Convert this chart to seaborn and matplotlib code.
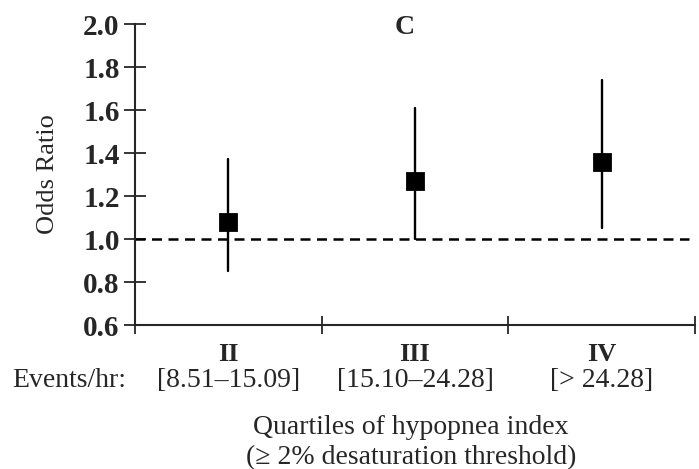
import pandas as pd
import seaborn as sns
import matplotlib.pyplot as plt
import matplotlib.transforms as mtransforms

quartiles = ['II', 'III', 'IV']
ranges = ['[8.51\u201315.09]', '[15.10\u201324.28]', '[> 24.28]']
odds = [1.08, 1.27, 1.36]
ci_low = [0.85, 1.00, 1.05]
ci_high = [1.37, 1.61, 1.74]
yticks = [0.6, 0.8, 1.0, 1.2, 1.4, 1.6, 1.8, 2.0]

# long table: median of (low, mid, high) = odds ratio, 100% interval = CI
df = pd.DataFrame({
    'Quartile': quartiles * 3,
    'Value': odds + ci_low + ci_high,
})

sns.set_style('ticks')
plt.rcParams['font.family'] = ['Liberation Serif', 'DejaVu Serif']

fig = plt.figure(figsize=(6.99, 4.69), dpi=100)
ax = fig.add_axes([135 / 699, 1 - 325 / 469, 560 / 699, 301 / 469])

ax.axhline(1.0, xmin=0, xmax=0.99, color='black', lw=1.8,
           linestyle=(0, (4, 2.6)), zorder=1)

sns.pointplot(data=df, x='Quartile', y='Value', order=quartiles,
              estimator='median', errorbar=('pi', 100), color='black',
              marker='s', markersize=11, linestyle='none',
              err_kws={'linewidth': 1.7}, ax=ax, zorder=3)

ax.set_xlim(-0.5, 2.5)
ax.set_ylim(0.6, 2.0)
ax.set_yticks(yticks)
ax.set_yticklabels([f'{v:.1f}' for v in yticks], fontsize=21, fontweight='bold')
ax.set_xticks([-0.5, 0.5, 1.5, 2.5])
ax.set_xticklabels([])
ax.set_xticks([0, 1, 2], minor=True)
ax.set_xticklabels(quartiles, minor=True, fontsize=19, fontweight='bold')
ax.tick_params(axis='x', which='minor', length=0, pad=13)
ax.tick_params(axis='y', direction='inout', length=16, width=1.3, pad=3)
ax.tick_params(axis='x', which='major', direction='inout', length=13, width=1.3)
ax.set_xlabel('')
ax.set_ylabel('Odds Ratio', fontsize=19)
ax.yaxis.set_label_coords(-0.135, 0.5)

for side in ['top', 'right']:
    ax.spines[side].set_visible(False)
for side in ['left', 'bottom']:
    ax.spines[side].set_linewidth(1.5)

trans = mtransforms.blended_transform_factory(ax.transData, ax.transAxes)
for i, r in enumerate(ranges):
    ax.text(i, -0.183, r, transform=trans, ha='center', va='center', fontsize=20)
fig.text(12 / 699, 1 - 380 / 469, 'Events/hr:', ha='left', va='center', fontsize=20)

fig.text(411 / 699, 1 - 427 / 469, 'Quartiles of hypopnea index',
         ha='center', va='center', fontsize=20)
fig.text(411 / 699, 1 - 458 / 469, '(\u2265 2% desaturation threshold)',
         ha='center', va='center', fontsize=20)
fig.text(405 / 699, 1 - 27 / 469, 'C', ha='center', va='center',
         fontsize=20, fontweight='bold')

fig.savefig('out.png', dpi=100)
